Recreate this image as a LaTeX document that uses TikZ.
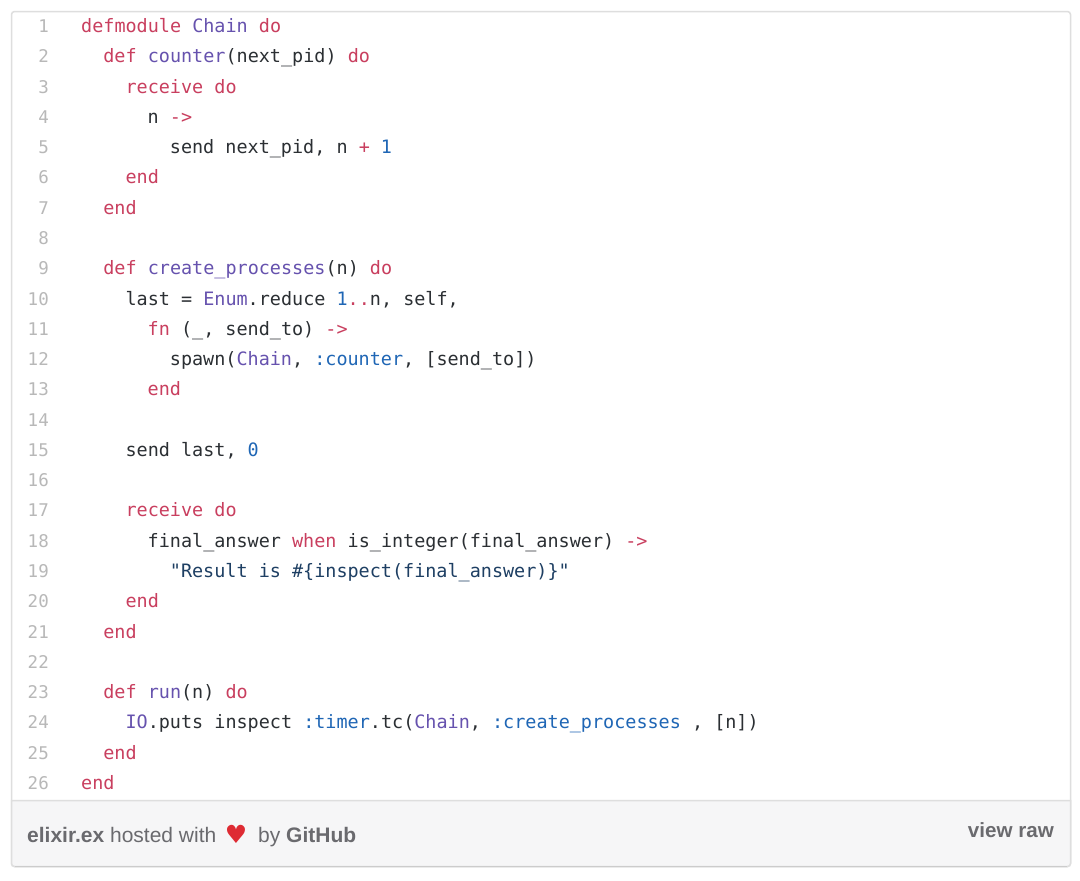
\documentclass[tikz,border=0pt]{standalone}
\usepackage{fontspec}
\setmainfont{Liberation Sans}
\setmonofont{DejaVu Sans Mono}
\newfontfamily\heartfont{DejaVu Sans}

\definecolor{kwred}{HTML}{C93F5F}
\definecolor{fnpurple}{HTML}{6652AE}
\definecolor{cstblue}{HTML}{1F66B5}
\definecolor{strnavy}{HTML}{1E3F63}
\definecolor{plaintxt}{HTML}{2B2F33}
\definecolor{numgray}{HTML}{B8B8B8}
\definecolor{cardline}{HTML}{DEDEDE}
\definecolor{cardedge}{HTML}{CCCCCC}
\definecolor{footfill}{HTML}{F6F6F7}
\definecolor{foottxt}{HTML}{6A6A6E}
\definecolor{heartred}{HTML}{DE2B33}

\newcommand{\kw}[1]{\textcolor{kwred}{#1}}
\newcommand{\fnc}[1]{\textcolor{fnpurple}{#1}}
\newcommand{\cst}[1]{\textcolor{cstblue}{#1}}
\newcommand{\str}[1]{\textcolor{strnavy}{#1}}

\tikzset{
    codeline/.style={anchor=base west, inner sep=0, text=plaintxt, font=\ttfamily\fontsize{18.45}{20}\selectfont},
    numline/.style={anchor=base east, inner sep=0, text=numgray, font=\ttfamily\fontsize{17.5}{20}\selectfont},
    foot/.style={anchor=base west, inner sep=0, text=foottxt, font=\fontsize{21}{22}\selectfont}
}

\begin{document}
\begin{tikzpicture}[x=1pt,y=-1pt]
    \useasboundingbox (0,0) rectangle (1080,881);
    
    % Card + footer
    \fill[white] (0,0) rectangle (1080,881);
    \draw[cardline, line width=1.5, fill=white, rounded corners=3] (11.5,11.5) rectangle (1070.5,866.5);
    \draw[cardline, line width=1.5, fill=footfill] (11.5,800.5) -- (1070.5,800.5) [rounded corners=3] -- (1070.5,866.5) -- (11.5,866.5) [sharp corners] -- cycle;
    \draw[cardedge, line width=1.5] (15,866.5) -- (1067,866.5);
    
    % Line numbers
    \foreach \n in {1,...,26}
        \node[numline] (num\n) at (49,32.5+30.28*\n-30.28) {\n};
    
    % Code
    \foreach \n/\ind/\txt in {
        1/0/{\kw{defmodule} \fnc{Chain} \kw{do}},
        2/1/{\kw{def} \fnc{counter}(next\_pid) \kw{do}},
        3/2/{\kw{receive} \kw{do}},
        4/3/{n \kw{->}},
        5/4/{send next\_pid, n \kw{+} \cst{1}},
        6/2/{\kw{end}},
        7/1/{\kw{end}},
        9/1/{\kw{def} \fnc{create\_processes}(n) \kw{do}},
        10/2/{last = \fnc{Enum}.reduce \cst{1}\kw{..}n, self,},
        11/3/{\kw{fn} (\_, send\_to) \kw{->}},
        12/4/{spawn(\fnc{Chain}, \cst{:counter}, [send\_to])},
        13/3/{\kw{end}},
        15/2/{send last, \cst{0}},
        17/2/{\kw{receive} \kw{do}},
        18/3/{final\_answer \kw{when} is\_integer(final\_answer) \kw{->}},
        19/4/{\str{"Result is \#\{inspect(final\_answer)\}"}},
        20/2/{\kw{end}},
        21/1/{\kw{end}},
        23/1/{\kw{def} \fnc{run}(n) \kw{do}},
        24/2/{\fnc{IO}.puts inspect \cst{:timer}.tc(\fnc{Chain}, \cst{:create\_processes} , [n])},
        25/1/{\kw{end}},
        26/0/{\kw{end}}}
        \node[codeline] (code\n) at (81+22.18*\ind,32.5+30.28*\n-30.28) {\txt};
    
    % Footer text
    \node[foot] (gist) at (27,842) {\textbf{elixir.ex} hosted with};
    \node[foot, anchor=base, text=heartred, font=\heartfont\fontsize{25}{26}\selectfont] (heart) at (236,843) {♥};
    \node[foot] (host) at (258,842) {by \textbf{GitHub}};
    \node[foot, anchor=base east, font=\bfseries\fontsize{20.6}{22}\selectfont] (raw) at (1054,837) {view raw};
    
\end{tikzpicture}
\end{document}
